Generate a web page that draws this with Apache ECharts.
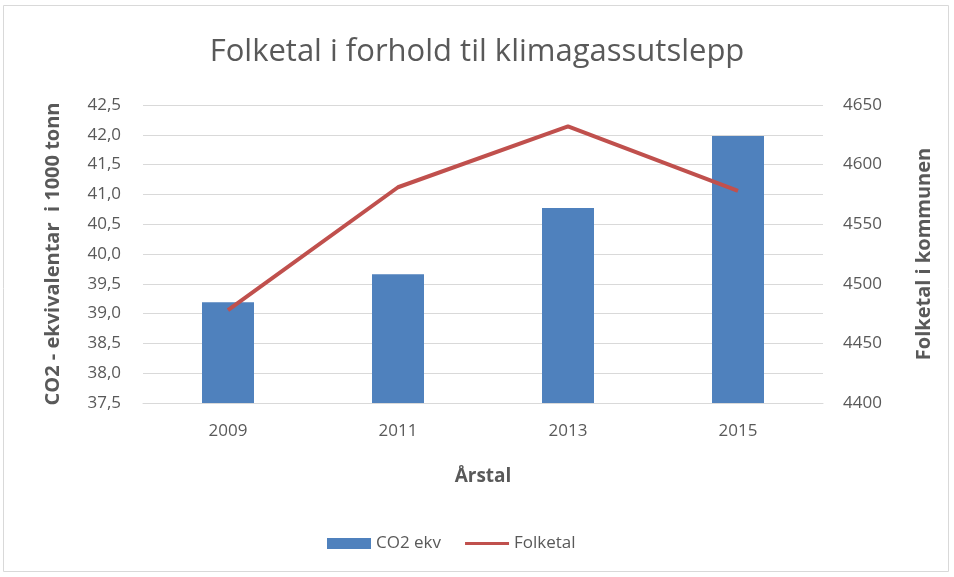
<!DOCTYPE html>
<html>
<head>
<meta charset="utf-8">
<script src="https://cdn.jsdelivr.net/npm/echarts@6/dist/echarts.min.js"></script>
<style>
  html, body { margin: 0; padding: 0; background: #fff; }
  #chart { width: 954px; height: 577px; }
</style>
</head>
<body>
<div id="chart"></div>
<script>
// data
const years = ["2009", "2011", "2013", "2015"];
const co2 = [39.19, 39.66, 40.77, 41.98];
const folketal = [4478, 4581, 4632, 4578];

const textColor = "#595959";
const font = "Open Sans";

let chart = echarts.init(document.getElementById("chart"));
chart.setOption({
  animation: false,
  textStyle: { fontFamily: font },
  graphic: [
    {
      type: "rect",
      shape: { x: 3.5, y: 5.5, width: 945, height: 566 },
      style: { fill: "none", stroke: "#d9d9d9", lineWidth: 1 },
    },
  ],
  title: {
    text: "Folketal i forhold til klimagassutslepp",
    left: "center",
    top: 32,
    textStyle: { color: textColor, fontSize: 31, fontWeight: "normal", fontFamily: font },
  },
  legend: {
    bottom: 20,
    left: 322,
    itemWidth: 44,
    itemHeight: 11,
    itemGap: 24,
    textStyle: { color: textColor, fontSize: 17 },
    data: [
      { name: "CO2 ekv", icon: "rect" },
      { name: "Folketal", icon: "path://M0,4.5 L44,4.5 L44,7.5 L0,7.5 Z" },
    ],
  },
  grid: { left: 143, right: 131, top: 105, bottom: 174 },
  xAxis: {
    type: "category",
    data: years,
    name: "Årstal",
    nameLocation: "middle",
    nameGap: 64,
    nameTextStyle: { color: textColor, fontSize: 19, fontWeight: "bold" },
    axisLine: { show: true, lineStyle: { color: "#d9d9d9" } },
    axisTick: { show: false },
    axisLabel: { color: textColor, fontSize: 17, margin: 20 },
  },
  yAxis: [
    {
      type: "value",
      min: 37.5,
      max: 42.5,
      interval: 0.5,
      name: "CO2 - ekvivalentar  i 1000 tonn",
      nameLocation: "middle",
      nameGap: 80,
      nameTextStyle: { color: textColor, fontSize: 20, fontWeight: "bold" },
      axisLine: { show: false },
      axisTick: { show: false },
      axisLabel: {
        color: textColor,
        fontSize: 17,
        margin: 22,
        formatter: (v) => v.toFixed(1).replace(".", ","),
      },
      splitLine: { lineStyle: { color: "#d9d9d9" } },
    },
    {
      type: "value",
      min: 4400,
      max: 4650,
      interval: 50,
      name: "Folketal i kommunen",
      nameLocation: "middle",
      nameGap: 91,
      nameTextStyle: { color: textColor, fontSize: 20, fontWeight: "bold" },
      axisLine: { show: false },
      axisTick: { show: false },
      axisLabel: { color: textColor, fontSize: 17, margin: 20, formatter: (v) => String(v) },
      splitLine: { show: false },
    },
  ],
  series: [
    {
      name: "CO2 ekv",
      type: "bar",
      data: co2,
      barWidth: 52,
      itemStyle: { color: "#4f81bd" },
    },
    {
      name: "Folketal",
      type: "line",
      yAxisIndex: 1,
      data: folketal,
      symbol: "none",
      lineStyle: { color: "#c0504d", width: 4 },
      itemStyle: { color: "#c0504d" },
    },
  ],
});
</script>
</body>
</html>
